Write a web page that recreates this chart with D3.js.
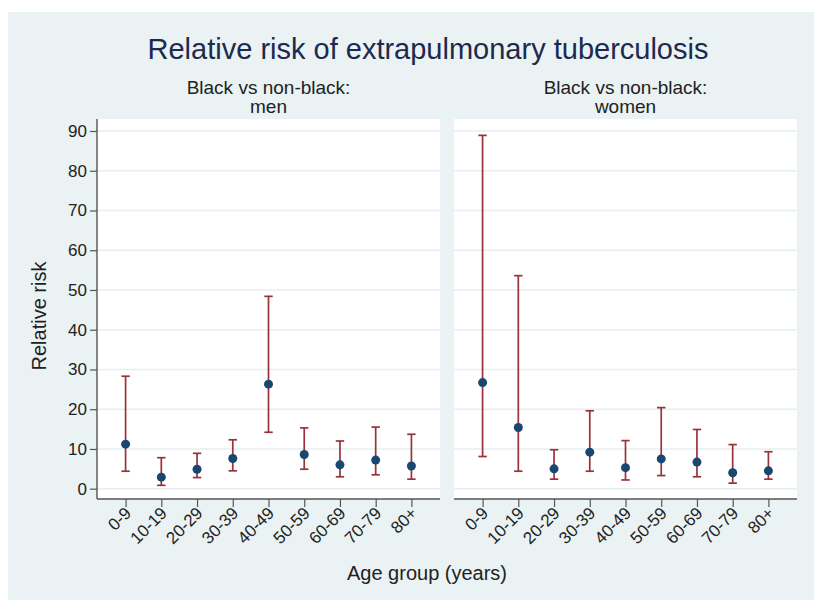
<!DOCTYPE html>
<html>
<head>
<meta charset="utf-8">
<script src="https://cdn.jsdelivr.net/npm/d3@7"></script>
<style>
  html, body { margin: 0; padding: 0; background: #ffffff; }
  svg { display: block; font-family: "Liberation Sans", Arial, Helvetica, sans-serif; }
</style>
</head>
<body>
<svg id="chart" width="814" height="600"></svg>
<script>
const ageGroups = ["0-9", "10-19", "20-29", "30-39", "40-49", "50-59", "60-69", "70-79", "80+"];
const yTicks = [0, 10, 20, 30, 40, 50, 60, 70, 80, 90];

const menRR    = [11.2, 2.9, 4.9, 7.6, 26.3, 8.6, 6.0, 7.2, 5.7];
const menLower = [4.4, 0.85, 2.8, 4.5, 14.2, 4.9, 3.0, 3.5, 2.4];
const menUpper = [28.3, 7.8, 8.9, 12.3, 48.4, 15.3, 12.0, 15.5, 13.7];

const womenRR    = [26.7, 15.4, 5.0, 9.2, 5.3, 7.5, 6.7, 4.0, 4.5];
const womenLower = [8.1, 4.4, 2.4, 4.4, 2.2, 3.3, 3.0, 1.4, 2.4];
const womenUpper = [88.9, 53.6, 9.8, 19.6, 12.1, 20.4, 14.9, 11.1, 9.3];

const panelTitles = [["Black vs non-black:", "men"], ["Black vs non-black:", "women"]];
const chartTitle = "Relative risk of extrapulmonary tuberculosis";
const yTitle = "Relative risk";
const xTitle = "Age group (years)";

const panels = [
  { title: panelTitles[0], rr: menRR, lo: menLower, hi: menUpper, x0: 97, x1: 440, axis: true },
  { title: panelTitles[1], rr: womenRR, lo: womenLower, hi: womenUpper, x0: 454, x1: 797, axis: false }
];

const svg = d3.select("#chart");
const bg = "#eaf2f3";
const plotTop = 119, plotBottom = 499;

svg.append("rect").attr("x", 8).attr("y", 12).attr("width", 806).attr("height", 588).attr("fill", bg);

svg.append("text").attr("x", 428).attr("y", 59).attr("text-anchor", "middle")
  .attr("font-size", 29).attr("fill", "#1c2a4e").text(chartTitle);

const y = d3.scaleLinear().domain([0, 90]).range([488.7, 131]);

panels.forEach(p => {
  const g = svg.append("g");
  const x = d3.scalePoint().domain(ageGroups).range([p.x0, p.x1]).padding(0.8);
  const cx = (p.x0 + p.x1) / 2;

  // panel title
  const t = g.append("text").attr("text-anchor", "middle").attr("font-size", 19).attr("fill", "#222");
  t.append("tspan").attr("x", cx).attr("y", 93.5).text(p.title[0]);
  t.append("tspan").attr("x", cx).attr("y", 112.5).text(p.title[1]);

  // plot region
  g.append("rect").attr("x", p.x0).attr("y", plotTop).attr("width", p.x1 - p.x0)
    .attr("height", plotBottom - plotTop).attr("fill", "#ffffff");

  // gridlines
  g.selectAll(".grid").data(yTicks).enter().append("line")
    .attr("x1", p.x0).attr("x2", p.x1)
    .attr("y1", d => y(d)).attr("y2", d => y(d))
    .attr("stroke", "#e6eff1").attr("stroke-width", 1.6);

  // y axis
  if (p.axis) {
    const ya = g.append("g").attr("transform", `translate(${p.x0},0)`)
      .call(d3.axisLeft(y).tickValues(yTicks).tickSize(7).tickPadding(3));
    ya.select(".domain").attr("d", `M0,${plotTop}V${plotBottom}`).attr("stroke", "#555").attr("stroke-width", 1.4);
    ya.selectAll(".tick line").attr("stroke", "#555").attr("stroke-width", 1.2);
    ya.selectAll(".tick text").attr("font-size", 17).attr("fill", "#222")
      .attr("font-family", "Liberation Sans, Arial, sans-serif");
  }

  // x axis
  const xa = g.append("g").attr("transform", `translate(0,${plotBottom})`)
    .call(d3.axisBottom(x).tickSize(8).tickPadding(0));
  xa.select(".domain").attr("d", `M${p.x0},0H${p.x1}`).attr("stroke", "#555").attr("stroke-width", 1.4);
  xa.selectAll(".tick line").attr("stroke", "#555").attr("stroke-width", 1.2);
  xa.selectAll(".tick text")
    .attr("font-size", 17).attr("fill", "#222")
    .attr("font-family", "Liberation Sans, Arial, sans-serif")
    .attr("text-anchor", "end")
    .attr("dy", "0.35em")
    .attr("transform", "translate(2,11) rotate(-45)")
    .attr("x", 0).attr("y", 0);

  // error bars
  const data = ageGroups.map((a, i) => ({ a, rr: p.rr[i], lo: p.lo[i], hi: p.hi[i] }));
  const eb = g.append("g").attr("stroke", "#99323a").attr("stroke-width", 1.7).attr("fill", "none");
  eb.selectAll(".v").data(data).enter().append("line")
    .attr("x1", d => x(d.a)).attr("x2", d => x(d.a))
    .attr("y1", d => y(d.lo)).attr("y2", d => y(d.hi));
  eb.selectAll(".ch").data(data).enter().append("line")
    .attr("x1", d => x(d.a) - 4.2).attr("x2", d => x(d.a) + 4.2)
    .attr("y1", d => y(d.hi)).attr("y2", d => y(d.hi));
  eb.selectAll(".cl").data(data).enter().append("line")
    .attr("x1", d => x(d.a) - 4.2).attr("x2", d => x(d.a) + 4.2)
    .attr("y1", d => y(d.lo)).attr("y2", d => y(d.lo));

  // points
  g.selectAll(".pt").data(data).enter().append("circle")
    .attr("cx", d => x(d.a)).attr("cy", d => y(d.rr)).attr("r", 4.5)
    .attr("fill", "#1a476f");
});

svg.append("text").attr("text-anchor", "middle").attr("font-size", 20).attr("fill", "#222")
  .attr("transform", "translate(46,316) rotate(-90)").text(yTitle);

svg.append("text").attr("x", 427).attr("y", 580).attr("text-anchor", "middle")
  .attr("font-size", 20).attr("fill", "#222").text(xTitle);
</script>
</body>
</html>
